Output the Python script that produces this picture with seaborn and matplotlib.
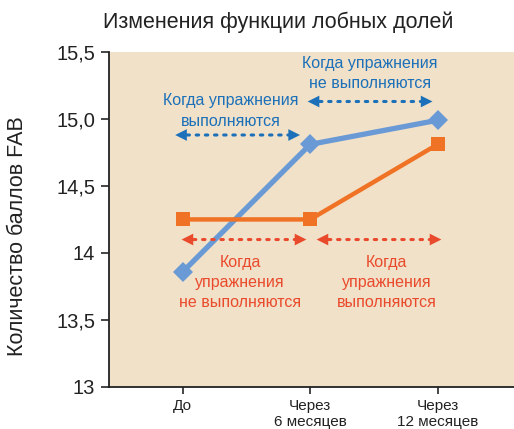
import matplotlib
matplotlib.use("Agg")
import matplotlib.pyplot as plt
import numpy as np
import pandas as pd
import seaborn as sns

# data
periods = ["До", "Через\n6 месяцев", "Через\n12 месяцев"]
blue_scores = [13.86, 14.81, 14.99]
orange_scores = [14.25, 14.25, 14.81]
y_ticks = [13, 13.5, 14, 14.5, 15, 15.5]
y_ticklabels = ["13", "13,5", "14", "14,5", "15,0", "15,5"]

blue_line = "#6a9ad6"
orange_line = "#f07224"
blue_text = "#1b70b9"
red_text = "#ea4a2c"
bg = "#f1e1c8"

sns.set_theme(style="ticks")
plt.rcParams["font.family"] = ["Liberation Sans", "DejaVu Sans"]

df = pd.DataFrame({
    "x": list(range(len(periods))) * 2,
    "score": blue_scores + orange_scores,
    "group": ["blue"] * 3 + ["orange"] * 3,
})

fig = plt.figure(figsize=(5.14, 4.29), dpi=100)
ax = fig.add_axes([0.212, 0.098, 0.788, 0.781])
ax.set_facecolor(bg)

sns.lineplot(data=df[df.group == "blue"], x="x", y="score", ax=ax,
             color=blue_line, lw=3.8, marker="D", markersize=10,
             markeredgewidth=0, zorder=3)
sns.lineplot(data=df[df.group == "orange"], x="x", y="score", ax=ax,
             color=orange_line, lw=3.2, marker="s", markersize=10,
             markeredgewidth=0, zorder=4)

ax.set_xlim(-0.58, 2.6)
ax.set_ylim(13, 15.5)
ax.set_xticks(range(len(periods)))
ax.set_xticklabels(periods, fontsize=11, color="#222222", linespacing=1.15)
ax.set_yticks(y_ticks)
ax.set_yticklabels(y_ticklabels, fontsize=14.5, color="#222222")
ax.tick_params(axis="y", length=6, width=1.2, pad=4)
ax.tick_params(axis="x", length=5, width=1.2, pad=4)
ax.set_xlabel("")
ax.set_ylabel("Количество баллов FAB", fontsize=15.5, color="#222222")
ax.yaxis.set_label_coords(-0.2, 0.45)
sns.despine(ax=ax)
for s in ["left", "bottom"]:
    ax.spines[s].set_linewidth(1.3)
    ax.spines[s].set_color("#222222")

fig.text(0.541, 0.948, "Изменения функции лобных долей", fontsize=15.5,
         ha="center", va="center", color="#222222")


def dotted_arrow(x0, x1, y, color):
    ax.annotate("", xy=(x0, y), xytext=(x1, y),
                arrowprops=dict(arrowstyle="-", color=color, lw=2.2,
                                ls=(0, (0.8, 2.2)), shrinkA=7, shrinkB=7))
    ax.annotate("", xy=(x0, y), xytext=(x0 + 0.06, y),
                arrowprops=dict(arrowstyle="-|>,head_length=0.7,head_width=0.35",
                                color=color, lw=0, shrinkA=0, shrinkB=0))
    ax.annotate("", xy=(x1, y), xytext=(x1 - 0.06, y),
                arrowprops=dict(arrowstyle="-|>,head_length=0.7,head_width=0.35",
                                color=color, lw=0, shrinkA=0, shrinkB=0))


dotted_arrow(-0.06, 0.92, 14.88, blue_text)
dotted_arrow(0.98, 1.96, 15.13, blue_text)
dotted_arrow(-0.01, 0.97, 14.10, red_text)
dotted_arrow(1.05, 2.03, 14.10, red_text)

ax.text(0.38, 15.06, "Когда упражнения\nвыполняются", color=blue_text,
        fontsize=11.5, ha="center", va="center", linespacing=1.45)
ax.text(1.47, 15.34, "Когда упражнения\nне выполняются", color=blue_text,
        fontsize=11.5, ha="center", va="center", linespacing=1.45)
ax.text(0.45, 13.78, "Когда\nупражнения\nне выполняются", color=red_text,
        fontsize=11.5, ha="center", va="center", linespacing=1.45)
ax.text(1.60, 13.78, "Когда\nупражнения\nвыполняются", color=red_text,
        fontsize=11.5, ha="center", va="center", linespacing=1.45)

fig.savefig("out.png", dpi=100)
